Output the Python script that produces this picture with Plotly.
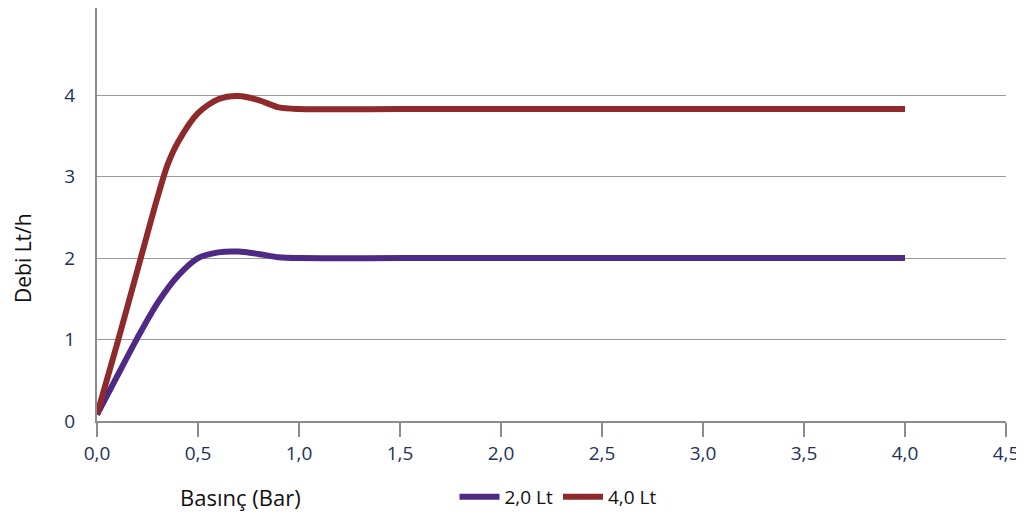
import plotly.graph_objects as go

# Data
x_2lt = [0.0, 0.1, 0.2, 0.3, 0.4, 0.5, 0.6, 0.7, 0.8, 0.9, 1.0, 1.5, 2.0, 2.5, 3.0, 3.5, 4.0]
y_2lt = [0.08, 0.55, 1.02, 1.45, 1.78, 2.0, 2.07, 2.08, 2.05, 2.01, 2.0, 2.0, 2.0, 2.0, 2.0, 2.0, 2.0]

x_4lt = [0.0, 0.1, 0.2, 0.3, 0.35, 0.4, 0.5, 0.6, 0.7, 0.8, 0.9, 1.0, 1.5, 2.0, 2.5, 3.0, 3.5, 4.0]
y_4lt = [0.08, 0.95, 1.85, 2.75, 3.15, 3.42, 3.78, 3.95, 3.99, 3.94, 3.85, 3.83, 3.83, 3.83, 3.83, 3.83, 3.83, 3.83]

series_names = ["2,0 Lt", "4,0 Lt"]
colors = ["#4E2A84", "#8E2A2C"]

x_ticks = [0.0, 0.5, 1.0, 1.5, 2.0, 2.5, 3.0, 3.5, 4.0, 4.5]
y_ticks = [0, 1, 2, 3, 4]

fig = go.Figure()
for xs, ys, name, c in [(x_2lt, y_2lt, series_names[0], colors[0]),
                        (x_4lt, y_4lt, series_names[1], colors[1])]:
    fig.add_trace(go.Scatter(x=xs, y=ys, mode="lines", name=name,
                             line=dict(color=c, width=6, shape="spline", smoothing=0.8)))

# page has an 8px body margin: figure pixel = reference pixel - 8
OFF = 8
L, R, T, B = 97 - OFF, 1006 - OFF, 8 - OFF, 421 - OFF
W, H = 1024, 522
pw, ph = R - L, B - T

def px(xr):
    return (xr - OFF - L) / pw

def py(yr):
    return (B - (yr - OFF)) / ph

fig.update_layout(
    width=W, height=H,
    margin=dict(l=L, r=W - R, t=T, b=H - B, autoexpand=False),
    paper_bgcolor="white", plot_bgcolor="white",
    separators=",.",
    font=dict(family="Open Sans, DejaVu Sans, sans-serif", color="#22325A", size=18),
    showlegend=True,
    legend=dict(orientation="h", x=px(558), y=py(497), xanchor="center", yanchor="middle",
                font=dict(size=19, color="#111111"), itemwidth=40,
                traceorder="normal", tracegroupgap=0, bgcolor="rgba(0,0,0,0)"),
    annotations=[
        dict(text="Basınç (Bar)", x=px(240), y=py(497), xref="paper", yref="paper",
             xanchor="center", yanchor="middle", showarrow=False,
             font=dict(size=22, color="#111111")),
        dict(text="Debi Lt/h", textangle=-90, x=px(23), y=py(258), xref="paper", yref="paper",
             xanchor="center", yanchor="middle", showarrow=False,
             font=dict(size=21, color="#111111")),
    ],
)

fig.update_xaxes(range=[0, 4.5], tickvals=x_ticks, tickformat=".1f",
                 showline=True, linecolor="#8C8C8C", linewidth=2,
                 ticks="outside", ticklen=14, tickcolor="#8C8C8C", tickwidth=2,
                 showgrid=False, zeroline=False, tickfont=dict(size=19))
fig.update_yaxes(range=[0, 5.07], tickvals=y_ticks,
                 showline=True, linecolor="#8C8C8C", linewidth=2,
                 showgrid=True, gridcolor="#9A9A9A", gridwidth=1,
                 zeroline=False, ticks="", ticklabelstandoff=16, tickfont=dict(size=19))

fig.write_html("out.html")
